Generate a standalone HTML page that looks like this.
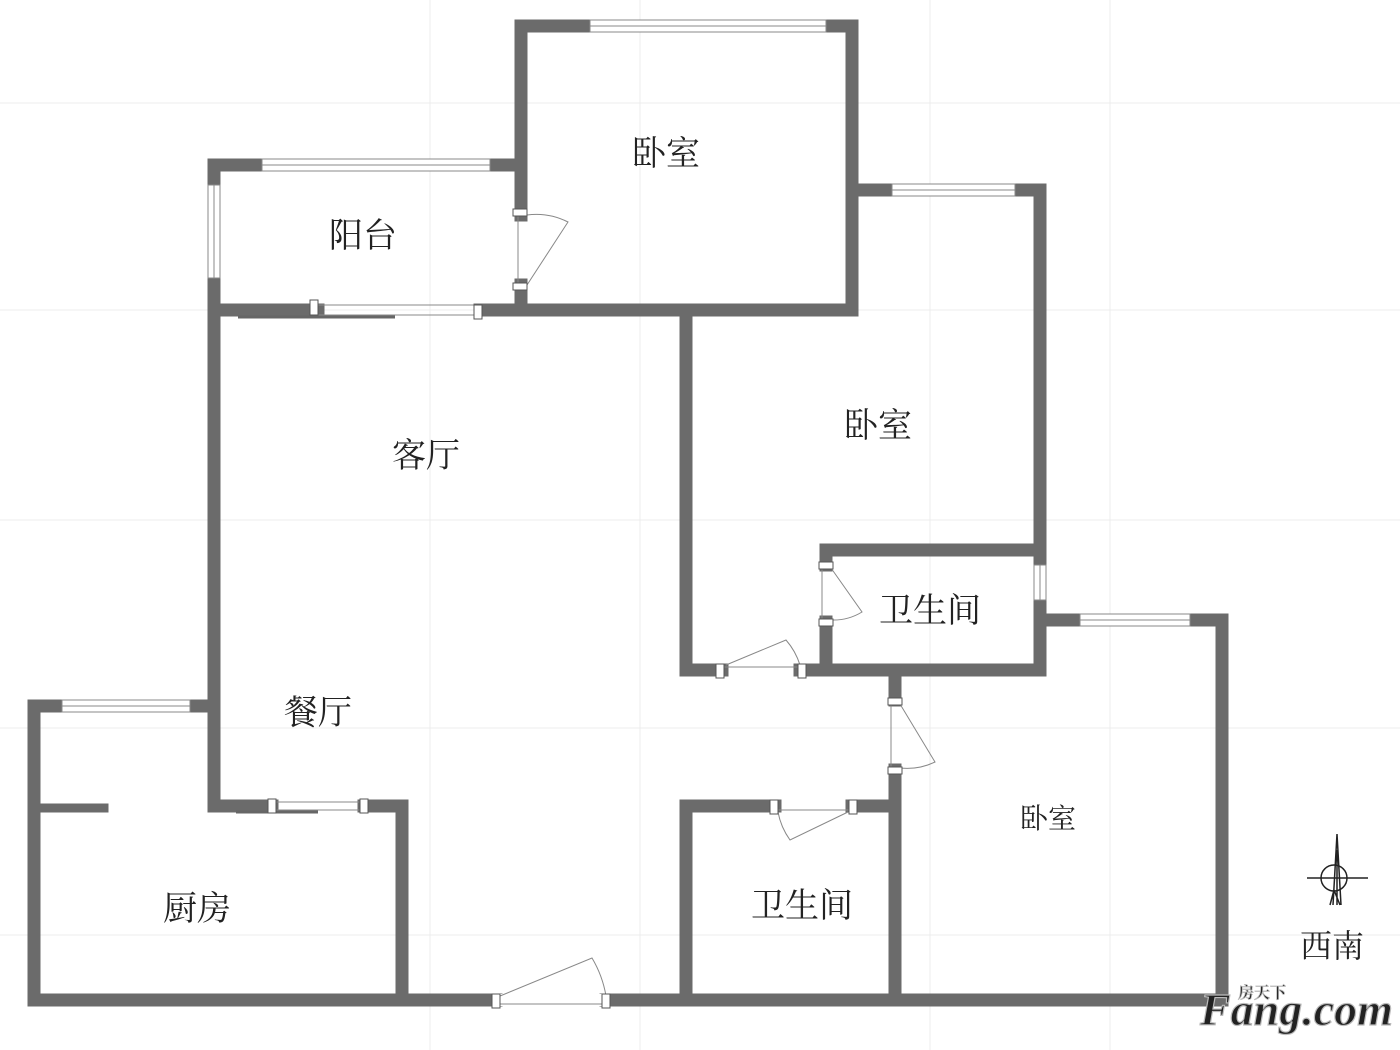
<!DOCTYPE html>
<html><head><meta charset="utf-8"><style>
html,body{margin:0;padding:0;background:#fff;width:1400px;height:1050px;overflow:hidden}
svg text{font-family:"Liberation Serif","Noto Serif CJK SC",serif;fill:#222}
</style></head><body>
<svg width="1400" height="1050" viewBox="0 0 1400 1050" xmlns="http://www.w3.org/2000/svg">
<g stroke="#ececec" stroke-width="1">
<line x1="0" y1="103" x2="1400" y2="103"/><line x1="0" y1="310" x2="1400" y2="310"/>
<line x1="0" y1="520" x2="1400" y2="520"/><line x1="0" y1="728" x2="1400" y2="728"/>
<line x1="0" y1="935" x2="1400" y2="935"/>
<line x1="430" y1="0" x2="430" y2="1050"/><line x1="640" y1="0" x2="640" y2="1050"/>
<line x1="930" y1="0" x2="930" y2="1050"/><line x1="1110" y1="0" x2="1110" y2="1050"/>
</g>
<g stroke="#6b6b6b" stroke-width="13" fill="none" stroke-linecap="square">
<polyline points="34,706 34,1000 496,1000"/>
<polyline points="606,1000 1222,1000 1222,620 1040,620 1040,190 852,190 852,26 521,26 521,215"/>
<polyline points="521,285 521,310"/>
<polyline points="214,706 214,165 521,165"/>
<line x1="34" y1="706" x2="214" y2="706"/>
<line x1="214" y1="310" x2="318" y2="310"/>
<line x1="480" y1="310" x2="852" y2="310"/>
<line x1="852" y1="190" x2="852" y2="310"/>
<polyline points="214,706 214,806 272,806"/>
<polyline points="364,806 402,806 402,1000"/>
<line x1="44" y1="808" x2="104" y2="808" stroke-width="9"/>
<polyline points="686,310 686,670 722,670"/>
<line x1="800" y1="670" x2="1040" y2="670"/>
<line x1="1040" y1="600" x2="1040" y2="670"/>
<polyline points="826,565 826,550 1040,550"/>
<line x1="826" y1="622" x2="826" y2="670"/>
<line x1="895" y1="670" x2="895" y2="700"/>
<line x1="895" y1="770" x2="895" y2="1000"/>
<polyline points="686,1000 686,806 775,806"/>
<line x1="852" y1="806" x2="895" y2="806"/>
</g>
<g fill="#fff" stroke="#888" stroke-width="1">
<rect x="590" y="20" width="236" height="12"/><line x1="590" y1="26" x2="826" y2="26"/>
<rect x="262" y="159" width="228" height="12"/><line x1="262" y1="165" x2="490" y2="165"/>
<rect x="208" y="185" width="12" height="93"/><line x1="214" y1="185" x2="214" y2="278"/>
<rect x="892" y="184" width="123" height="12"/><line x1="892" y1="190" x2="1015" y2="190"/>
<rect x="1080" y="614" width="110" height="12"/><line x1="1080" y1="620" x2="1190" y2="620"/>
<rect x="62" y="700" width="128" height="12"/><line x1="62" y1="706" x2="190" y2="706"/>
<rect x="1034" y="565" width="12" height="35"/><line x1="1040" y1="565" x2="1040" y2="600"/>
<rect x="496" y="994" width="110" height="12" stroke="none"/>
</g>
<g stroke="#888" stroke-width="1" fill="none">
<line x1="318" y1="305" x2="480" y2="305"/><line x1="318" y1="315" x2="480" y2="315"/>
<line x1="238" y1="317" x2="395" y2="317" stroke="#666" stroke-width="3"/>
<line x1="272" y1="802" x2="364" y2="802"/><line x1="272" y1="810" x2="364" y2="810"/>
<line x1="236" y1="812" x2="318" y2="812" stroke="#666" stroke-width="3"/>
<line x1="518" y1="215" x2="518" y2="285"/>
<path d="M527,285 L568,222 A70,70 0 0 0 527,215"/>
<line x1="722" y1="667" x2="800" y2="667"/>
<path d="M726,665 L786,640 A70,70 0 0 1 800,665"/>
<line x1="822" y1="565" x2="822" y2="622"/>
<path d="M831,568 L862,612 A55,55 0 0 1 831,620"/>
<line x1="891" y1="700" x2="891" y2="770"/>
<path d="M900,704 L935,762 A65,65 0 0 1 900,768"/>
<line x1="775" y1="810" x2="852" y2="810"/>
<path d="M848,812 L790,840 A70,70 0 0 1 778,812"/>
<line x1="496" y1="1004" x2="606" y2="1004"/>
<path d="M500,996 L592,958 A110,110 0 0 1 606,996"/>
</g>
<g fill="#fff" stroke="#555" stroke-width="1">
<rect x="513" y="209" width="14" height="7"/><rect x="513" y="283" width="14" height="7"/>
<rect x="310" y="300" width="8" height="15"/><rect x="474" y="305" width="8" height="14"/>
<rect x="716" y="664" width="8" height="14"/><rect x="798" y="664" width="8" height="14"/>
<rect x="819" y="562" width="14" height="7"/><rect x="819" y="619" width="14" height="7"/>
<rect x="888" y="698" width="14" height="7"/><rect x="888" y="767" width="14" height="7"/>
<rect x="770" y="800" width="8" height="14"/><rect x="849" y="800" width="8" height="14"/>
<rect x="268" y="799" width="8" height="14"/><rect x="360" y="799" width="8" height="14"/>
<rect x="492" y="994" width="8" height="14"/><rect x="602" y="994" width="8" height="14"/>
</g>
<g font-size="34" text-anchor="middle">
<text x="666" y="165">卧室</text>
<text x="363" y="247">阳台</text>
<text x="878" y="437">卧室</text>
<text x="426" y="467">客厅</text>
<text x="930" y="622">卫生间</text>
<text x="318" y="724">餐厅</text>
<text x="1048" y="828" font-size="28">卧室</text>
<text x="197" y="920">厨房</text>
<text x="802" y="917">卫生间</text>
<text x="1332" y="957" font-size="32">西南</text>
</g>
<g stroke="#222" stroke-width="1.5" fill="none">
<line x1="1307" y1="878" x2="1368" y2="878"/>
<circle cx="1334" cy="878" r="13"/>
<path d="M1337,834 L1333,905 M1337,834 L1341,905 M1330,905 L1334,890 L1340,905 M1337,850 L1337,905"/>
</g>
<g font-family="Liberation Sans,sans-serif" font-weight="bold" fill="#fff" stroke="#bbb" stroke-width="1.2">
<text x="1200" y="1025" font-size="46" font-style="italic">Fang.com</text>
<text x="1238" y="998" font-size="16" stroke-width="0.8" font-family="Noto Sans CJK SC,sans-serif">房天下</text>
</g>
</svg>
</body></html>
